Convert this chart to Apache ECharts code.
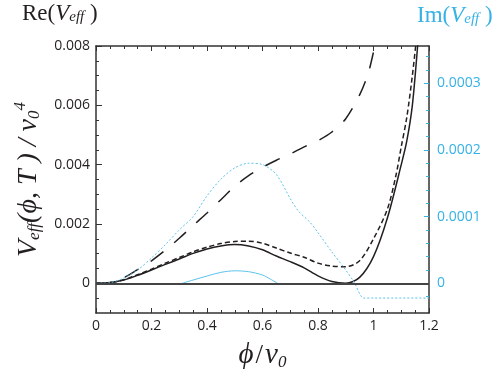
<!DOCTYPE html>
<html>
<head>
<meta charset="utf-8">
<script src="https://cdn.jsdelivr.net/npm/echarts@6/dist/echarts.min.js"></script>
<style>
  html, body { margin: 0; padding: 0; background: #fff; }
  #chart { width: 498px; height: 376px; }
</style>
</head>
<body>
<div id="chart"></div>
<script>
// Re(Veff) curves (left axis) and Im(Veff) curves (right axis) against phi/v0

// solid black, Re
const phiA = [0, 0.05, 0.1, 0.15, 0.2, 0.25, 0.3, 0.35, 0.4, 0.45, 0.5, 0.55, 0.6, 0.65, 0.7, 0.75, 0.8, 0.85, 0.9, 0.95, 1.0, 1.05, 1.1, 1.12, 1.14, 1.16, 1.17]
const reA = [0, 0.00002, 0.00011, 0.00027, 0.00045, 0.00064, 0.00082, 0.00101, 0.00116, 0.00126, 0.00131, 0.00126, 0.00113, 0.00092, 0.00073, 0.00052, 0.00025, 0.00006, 0.0, 0.0002, 0.0009, 0.0022, 0.0040, 0.0048, 0.0060, 0.0081, 0.0092]

// short dashed black, Re
const phiB = [0, 0.05, 0.1, 0.15, 0.2, 0.25, 0.3, 0.35, 0.4, 0.45, 0.5, 0.55, 0.6, 0.65, 0.7, 0.75, 0.8, 0.85, 0.9, 0.95, 1.0, 1.05, 1.08, 1.1, 1.12, 1.14, 1.16]
const reB = [0, 0.00002, 0.00012, 0.00029, 0.00048, 0.00068, 0.00087, 0.00106, 0.00122, 0.00134, 0.00141, 0.00142, 0.00135, 0.00119, 0.00102, 0.00088, 0.00068, 0.00058, 0.00056, 0.00076, 0.0015, 0.0025, 0.0036, 0.0046, 0.0056, 0.0070, 0.0087]

// long dashed black, Re
const phiC = [0, 0.05, 0.1, 0.15, 0.2, 0.25, 0.3, 0.35, 0.4, 0.45, 0.5, 0.55, 0.6, 0.65, 0.7, 0.75, 0.8, 0.85, 0.9, 0.95, 0.98, 1.0, 1.02]
const reC = [0, 0.00003, 0.00019, 0.00046, 0.00076, 0.00112, 0.00152, 0.00195, 0.00237, 0.00282, 0.00327, 0.00363, 0.00391, 0.00415, 0.00436, 0.00460, 0.00481, 0.00510, 0.00555, 0.00635, 0.00705, 0.0078, 0.0087]

// dotted cyan, Im
const phiD = [0, 0.05, 0.1, 0.15, 0.2, 0.25, 0.3, 0.35, 0.4, 0.45, 0.5, 0.55, 0.6, 0.65, 0.7, 0.73, 0.77, 0.8, 0.85, 0.9, 0.93, 0.965, 1.0, 1.2]
const imD = [0, 0.000001, 0.000008, 0.00002, 0.000038, 0.000058, 0.00008, 0.0001, 0.000131, 0.000156, 0.000173, 0.00018, 0.000178, 0.000163, 0.000127, 0.000108, 0.000092, 0.000076, 0.000047, 0.00002, 0.000002, -0.000022, -0.000022, -0.000022]

// solid cyan, Im
const phiE = [0.31, 0.35, 0.4, 0.45, 0.5, 0.55, 0.6, 0.63, 0.655]
const imE = [0, 0.000005, 0.000011, 0.0000165, 0.0000188, 0.0000175, 0.0000125, 0.000006, 0]

// axis ticks
const reTicks = [0, 0.002, 0.004, 0.006, 0.008]
const reMinorTicks = [-0.0005, 0.0005, 0.001, 0.0015, 0.0025, 0.003, 0.0035, 0.0045, 0.005, 0.0055, 0.0065, 0.007, 0.0075]
const imTicks = [0, 0.0001, 0.0002, 0.0003]
const imMinorTicks = [-0.00002, 0.00002, 0.00004, 0.00006, 0.00008, 0.00012, 0.00014, 0.00016, 0.00018, 0.00022, 0.00024, 0.00026, 0.00028, 0.00032, 0.00034]

const RE_MIN = -0.001, RE_MAX = 0.008
const IM_MIN = -0.0000444, IM_MAX = 0.0003556

const BLACK = '#231f20'
const CYAN = '#35b2e6'
const CYAN_LINE = '#5cc2ec'
const SERIF = '"Liberation Serif", "DejaVu Serif", serif'
const SANS = '"Open Sans", "Noto Sans", sans-serif'

const zip = (xs, ys) => xs.map((x, i) => [x, ys[i]])

const chart = echarts.init(document.getElementById('chart'), null, { renderer: 'canvas' })

const frameLine = { show: true, onZero: false, lineStyle: { color: '#333', width: 1.5 } }

const option = {
  animation: false,
  grid: { left: 96, right: 69, top: 46, bottom: 63 },
  xAxis: [
    {
      type: 'value', min: 0, max: 1.2, interval: 0.2, position: 'bottom',
      axisLine: frameLine,
      axisTick: { show: true, inside: true, length: 5, lineStyle: { color: '#333' } },
      minorTick: { show: true, splitNumber: 4, length: 3, lineStyle: { color: '#333' } },
      axisLabel: { color: BLACK, fontFamily: SANS, fontSize: 14, margin: 6 },
      splitLine: { show: false },
      name: '{i|ϕ}{n|/}{i|v}{s|0}',
      nameLocation: 'middle', nameGap: 27,
      nameTextStyle: {
        rich: {
          i: { fontFamily: SERIF, fontStyle: 'italic', fontSize: 29, color: BLACK },
          n: { fontFamily: SERIF, fontSize: 27, color: BLACK, padding: [0, 2, 0, 2] },
          s: { fontFamily: SERIF, fontStyle: 'italic', fontSize: 17, color: BLACK, padding: [14, 0, 0, 0] }
        }
      }
    },
    {
      type: 'value', min: 0, max: 1.2, interval: 0.2, position: 'top',
      axisLine: frameLine,
      axisTick: { show: true, inside: true, length: 5, lineStyle: { color: '#333' } },
      minorTick: { show: true, splitNumber: 4, length: 3, lineStyle: { color: '#333' } },
      axisLabel: { show: false },
      splitLine: { show: false }
    }
  ],
  yAxis: [
    {
      type: 'value', min: RE_MIN, max: RE_MAX, position: 'left',
      axisLine: frameLine,
      axisTick: { show: true, inside: true, length: 6, customValues: reTicks, lineStyle: { color: '#333' } },
      axisLabel: {
        customValues: reTicks, color: BLACK, fontFamily: SANS, fontSize: 14, margin: 6,
        formatter: v => (v === 0 ? '0' : v.toFixed(3))
      },
      splitLine: { show: false },
      name: '{i|V}{s|eff}{i|(ϕ, T ) / v}{s|0}{p|4}',
      nameLocation: 'middle', nameRotate: 90, nameGap: 48,
      nameTextStyle: {
        rich: {
          i: { fontFamily: SERIF, fontStyle: 'italic', fontSize: 28, color: BLACK },
          s: { fontFamily: SERIF, fontStyle: 'italic', fontSize: 17, color: BLACK, padding: [13, 0, 0, 0] },
          p: { fontFamily: SERIF, fontStyle: 'italic', fontSize: 17, color: BLACK, padding: [0, 0, 15, 0] }
        }
      }
    },
    {
      type: 'value', min: IM_MIN, max: IM_MAX, position: 'right',
      axisLine: frameLine,
      axisTick: { show: true, inside: true, length: 5, customValues: imTicks, lineStyle: { color: CYAN } },
      axisLabel: {
        customValues: imTicks, color: CYAN, fontFamily: SANS, fontSize: 14, margin: 8,
        formatter: v => (v === 0 ? '0' : v.toFixed(4))
      },
      splitLine: { show: false }
    },
    {
      type: 'value', min: RE_MIN, max: RE_MAX, position: 'left',
      axisLine: { show: false, onZero: false },
      axisTick: { show: true, inside: true, length: 3, customValues: reMinorTicks, lineStyle: { color: '#333' } },
      axisLabel: { show: false },
      splitLine: { show: false }
    },
    {
      type: 'value', min: IM_MIN, max: IM_MAX, position: 'right',
      axisLine: { show: false, onZero: false },
      axisTick: { show: true, inside: true, length: 3, customValues: imMinorTicks, lineStyle: { color: CYAN } },
      axisLabel: { show: false },
      splitLine: { show: false }
    }
  ],
  graphic: [
    {
      type: 'text', x: 22, y: 2,
      style: {
        text: '{n|Re(}{i|V}{s|eff}{n| )}',
        rich: {
          n: { fontFamily: SERIF, fontSize: 23, fill: BLACK },
          i: { fontFamily: SERIF, fontStyle: 'italic', fontSize: 23, fill: BLACK },
          s: { fontFamily: SERIF, fontStyle: 'italic', fontSize: 15, fill: BLACK, padding: [8, 0, 0, 0] }
        }
      }
    },
    {
      type: 'text', x: 417, y: 4,
      style: {
        text: '{n|Im(}{i|V}{s|eff}{n| )}',
        rich: {
          n: { fontFamily: SERIF, fontSize: 23, fill: CYAN },
          i: { fontFamily: SERIF, fontStyle: 'italic', fontSize: 23, fill: CYAN },
          s: { fontFamily: SERIF, fontStyle: 'italic', fontSize: 15, fill: CYAN, padding: [8, 0, 0, 0] }
        }
      }
    }
  ],
  series: [
    {
      type: 'line', xAxisIndex: 0, yAxisIndex: 0, data: zip(phiA, reA),
      smooth: 0.3, showSymbol: false, clip: true,
      lineStyle: { color: BLACK, width: 1.5 },
      markLine: {
        silent: true, symbol: 'none', label: { show: false },
        lineStyle: { color: '#444', width: 2, type: 'solid' },
        data: [{ yAxis: 0 }]
      }
    },
    {
      type: 'line', xAxisIndex: 0, yAxisIndex: 0, data: zip(phiB, reB),
      smooth: 0.3, showSymbol: false, clip: true,
      lineStyle: { color: BLACK, width: 1.5, type: [5, 3] }
    },
    {
      type: 'line', xAxisIndex: 0, yAxisIndex: 0, data: zip(phiC, reC),
      smooth: 0.3, showSymbol: false, clip: true,
      lineStyle: { color: BLACK, width: 1.5, type: [16, 14] }
    },
    {
      type: 'line', xAxisIndex: 0, yAxisIndex: 1, data: zip(phiD, imD),
      smooth: 0.3, showSymbol: false, clip: true,
      lineStyle: { color: CYAN_LINE, width: 1, type: [2, 2] }
    },
    {
      type: 'line', xAxisIndex: 0, yAxisIndex: 1, data: zip(phiE, imE),
      smooth: 0.3, showSymbol: false, clip: true,
      lineStyle: { color: CYAN_LINE, width: 1 }
    }
  ]
}

chart.setOption(option)
</script>
</body>
</html>
